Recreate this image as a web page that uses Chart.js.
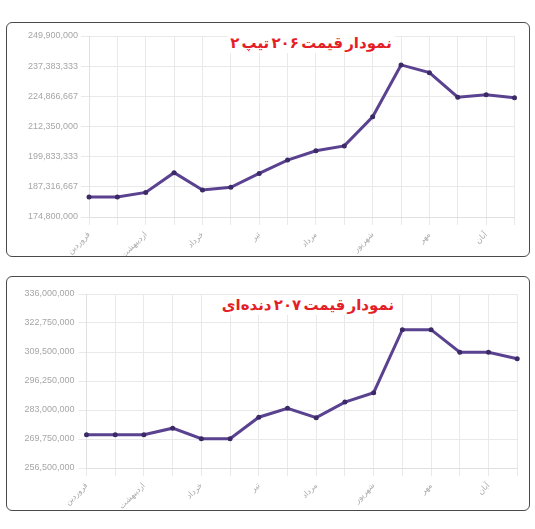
<!DOCTYPE html>
<html lang="fa">
<head>
<meta charset="utf-8">
<script src="https://cdn.jsdelivr.net/npm/chart.js@4.4.1/dist/chart.umd.min.js"></script>
<style>
  body { margin: 0; background: #fff; width: 535px; height: 529px; position: relative; overflow: hidden; }
  .box { position: absolute; left: 6px; width: 522px; height: 233px; border: 1.5px solid #4a4a4a; border-radius: 6px; background: #fff; }
  .box canvas { position: absolute; left: 0; top: 0; }
  .title { position: absolute; transform: translate(-50%, -50%); background: #fff; color: #e41e26; font: bold 15px "DejaVu Sans", sans-serif; word-spacing: -3px; direction: rtl; white-space: nowrap; padding: 0 3px; line-height: 20px; }
</style>
</head>
<body>
<div class="box" style="top:22px"><canvas id="c206" width="522" height="233"></canvas></div>
<div class="box" style="top:276px"><canvas id="c207" width="522" height="233"></canvas></div>
<div class="title" style="left:311px;top:43px">نمودار قیمت ۲۰۶ تیپ ۲</div>
<div class="title" style="left:308px;top:305px">نمودار قیمت ۲۰۷ دنده‌ای</div>
<script>
// Two price line charts (Peugeot 206 type 2, 207 manual).
const months = ["فروردین", "فروردین", "اردیبهشت", "اردیبهشت", "خرداد", "خرداد", "تیر", "تیر",
  "مرداد", "مرداد", "شهریور", "شهریور", "مهر", "مهر", "آبان", "آبان"];

const price206 = [183100000, 183100000, 185000000, 193200000, 186000000, 187100000, 192900000, 198400000,
  202300000, 204300000, 216400000, 237900000, 234700000, 224500000, 225500000, 224300000];
const ticks206 = [174800000, 187316667, 199833333, 212350000, 224866667, 237383333, 249900000];

const price207 = [271700000, 271700000, 271700000, 274700000, 269900000, 269900000, 279700000, 283800000,
  279500000, 286600000, 290900000, 319700000, 319700000, 309400000, 309400000, 306400000];
const ticks207 = [256500000, 269750000, 283000000, 296250000, 309500000, 322750000, 336000000];

const PURPLE = "#5a4290";
const fmt = (v) => Math.round(v).toLocaleString("en-US");

function priceChart(id, data, yTicks, lay) {
  new Chart(document.getElementById(id), {
    type: "line",
    data: {
      labels: months,
      datasets: [{ data, borderColor: PURPLE, backgroundColor: "#3b2a66", borderWidth: 3, pointRadius: 2.5, pointBorderWidth: 0, tension: 0 }],
    },
    options: {
      responsive: false, animation: false,
      layout: { padding: { top: lay.top, right: lay.right, bottom: 0, left: 0 } },
      plugins: { legend: { display: false }, tooltip: { enabled: false } },
      scales: {
        x: {
          grid: { color: "#e9e9e9" }, border: { color: "#e0e0e0" },
          afterFit: (s) => { s.height = lay.xh; },
          ticks: { autoSkip: false, minRotation: 45, maxRotation: 45, padding: 5, color: "#aaa", font: { size: 8, family: "DejaVu Sans" },
            callback: (v, i) => (i % 2 ? "" : months[i]) },
        },
        y: {
          min: yTicks[0], max: yTicks[yTicks.length - 1],
          grid: { color: "#e9e9e9" }, border: { color: "#e0e0e0" },
          afterFit: (s) => { s.width = lay.yw; },
          afterBuildTicks: (s) => { s.ticks = yTicks.map((v) => ({ value: v })); },
          ticks: { color: "#a6a6a6", padding: lay.yp, font: { size: 9, family: "Liberation Sans" }, callback: (v) => fmt(v) },
        },
      },
    },
  });
}

priceChart("c206", price206, ticks206, { top: 13, right: 14.5, xh: 39, yw: 82, yp: 3 });
priceChart("c207", price207, ticks207, { top: 17, right: 8, xh: 42, yw: 79.5, yp: 4 });
</script>
</body>
</html>
